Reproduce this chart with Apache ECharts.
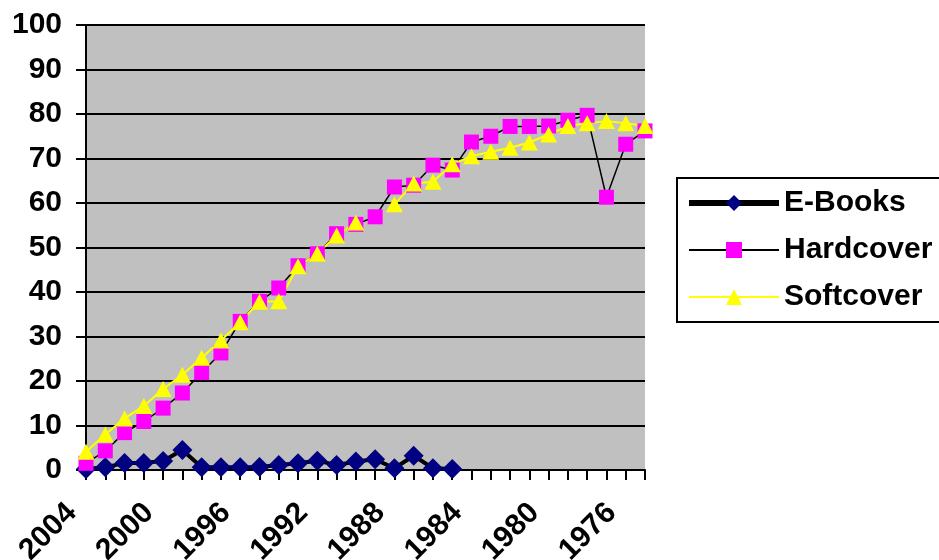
<!DOCTYPE html>
<html>
<head>
<meta charset="utf-8">
<script src="https://cdn.jsdelivr.net/npm/echarts@6/dist/echarts.min.js"></script>
<style>
html,body{margin:0;padding:0;background:#fff;}
#c{width:939px;height:560px;}
</style>
</head>
<body>
<div id="c"></div>
<script>
var years = ['2004','2003','2002','2001','2000','1999','1998','1997','1996','1995',
             '1994','1993','1992','1991','1990','1989','1988','1987','1986','1985',
             '1984','1983','1982','1981','1980','1979','1978','1977','1976','1975'];
var eBooks = [0.2, 0.6, 1.6, 1.6, 2.0, 4.5, 0.6, 0.6, 0.6, 0.7,
              1.1, 1.5, 2.1, 1.1, 1.9, 2.4, 0.4, 3.2, 0.4, 0.2,
              null, null, null, null, null, null, null, null, null, null];
var hardcover = [1.5, 4.3, 8.4, 10.9, 13.9, 17.3, 21.9, 26.3, 33.4, 37.9,
                 40.9, 45.9, 48.6, 53.1, 55.2, 56.9, 63.6, 64.0, 68.5, 67.4,
                 73.7, 75.0, 77.2, 77.2, 77.3, 78.6, 79.7, 61.3, 73.2, 76.2];
var softcover = [4.1, 8.0, 11.6, 14.4, 18.2, 21.4, 25.2, 29.1, 33.2, 37.8,
                 37.9, 45.8, 48.6, 52.7, 55.6, null, 59.7, 64.4, 64.8, 68.7,
                 70.5, 71.5, 72.4, 73.6, 75.4, 77.3, 77.9, 78.4, 77.9, 77.3];
var seriesNames = ['E-Books', 'Hardcover', 'Softcover'];
var yTicks = {min: 0, max: 100, interval: 10};

var FONT = '"Liberation Sans", Arial, sans-serif';
var chart = echarts.init(document.getElementById('c'), null, {renderer: 'canvas'});
chart.setOption({
  animation: false,
  backgroundColor: '#ffffff',
  grid: {left: 86, right: 294, top: 25, bottom: 90, show: true, backgroundColor: '#C0C0C0', borderWidth: 0,
         containLabel: false, outerBoundsMode: 'none'},
  legend: {
    orient: 'vertical', left: 677, top: 178,
    itemWidth: 90, itemHeight: 20, itemGap: 17,
    padding: [10, 40, 10, 9],
    borderColor: '#000', borderWidth: 2,
    textStyle: {fontFamily: FONT, fontWeight: 'bold', fontSize: 30, color: '#000'},
    data: [
      {name: seriesNames[0], lineStyle: {color: '#000', width: 6}, itemStyle: {color: '#000080'}},
      {name: seriesNames[1], lineStyle: {color: '#000', width: 2}, itemStyle: {color: '#FF00FF'}},
      {name: seriesNames[2], lineStyle: {color: '#FFFF00', width: 2}, itemStyle: {color: '#FFFF00'}}
    ]
  },
  xAxis: {
    type: 'category', data: years, boundaryGap: false,
    axisLine: {lineStyle: {color: '#000', width: 2}},
    axisTick: {show: true, interval: 0, length: 10, lineStyle: {color: '#000', width: 2}},
    axisLabel: {interval: 3, rotate: 45, margin: 24, padding: [0, 20, 0, 0], fontFamily: FONT, fontWeight: 'bold', fontSize: 30, color: '#000'},
    splitLine: {show: false}
  },
  yAxis: {
    type: 'value', min: yTicks.min, max: yTicks.max, interval: yTicks.interval,
    axisLine: {show: true, lineStyle: {color: '#000', width: 2}},
    axisTick: {show: true, length: 10, lineStyle: {color: '#000', width: 2}},
    axisLabel: {margin: 24, fontFamily: FONT, fontWeight: 'bold', fontSize: 30, color: '#000'},
    splitLine: {show: true, lineStyle: {color: '#000', width: 2}}
  },
  series: [
    {name: 'E-Books', type: 'line', data: eBooks, symbol: 'diamond', symbolSize: [20, 20],
     showAllSymbol: true,
     itemStyle: {color: '#000080'}, lineStyle: {color: '#000', width: 4}},
    {name: 'Hardcover', type: 'line', data: hardcover, symbol: 'rect', symbolSize: 15,
     showAllSymbol: true,
     itemStyle: {color: '#FF00FF'}, lineStyle: {color: '#000', width: 1.5}},
    {name: 'Softcover', type: 'line', data: softcover, symbol: 'triangle', symbolSize: [17, 16],
     showAllSymbol: true, connectNulls: false,
     itemStyle: {color: '#FFFF00'}, lineStyle: {color: '#FFFF00', width: 2}}
  ]
});
</script>
</body>
</html>
